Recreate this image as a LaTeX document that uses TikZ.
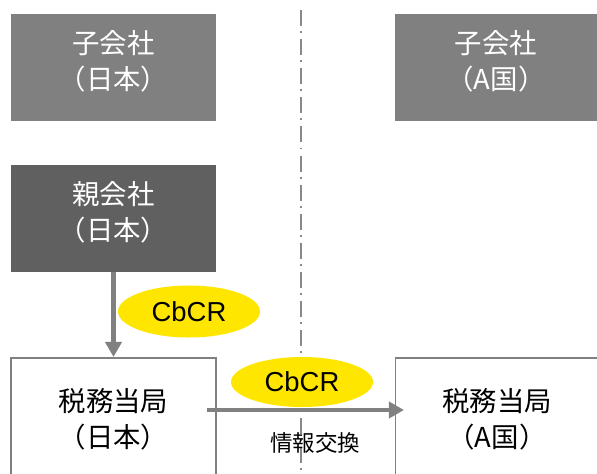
\documentclass[tikz,border=0pt]{standalone}
\usepackage{fontspec}
\setmainfont{Liberation Sans}
\newfontfamily\jp{Noto Sans CJK JP}
\usetikzlibrary{arrows.meta,shapes.geometric}
\definecolor{boxgray}{HTML}{808080}
\definecolor{pargray}{HTML}{606060}
\definecolor{cbyellow}{HTML}{FFE600}
\definecolor{linegray}{HTML}{888888}
\begin{document}
\begin{tikzpicture}[x=0.025cm,y=-0.025cm,
  filledbox/.style={draw=none,minimum width=5.125cm,minimum height=2.675cm,inner sep=0pt},
  taxbox/.style={draw=boxgray,line width=1.1pt,fill=white,minimum width=5.125cm,minimum height=3.4cm,inner sep=0pt},
  jptext/.style={align=center,font=\jp\fontsize{19.5}{25.6}\selectfont,inner sep=0pt},
  cbcr/.style={ellipse,fill=cbyellow,draw=none,minimum width=3.55cm,minimum height=1.3cm,inner sep=0pt,font=\fontsize{19.5}{22}\selectfont},
  flow/.style={draw=boxgray,line width=2.85pt,-{Triangle[width=11.4pt,length=10.7pt]}}]
\useasboundingbox (0,0) rectangle (597,473);
% dash-dot border line
\coordinate (dtop) at (301,10);
\coordinate (dbot) at (301,480);
\draw[linegray,line width=1.42pt,dash pattern=on 11.4pt off 3.6pt on 1.4pt off 4.3pt] (dtop) -- (dbot);
% boxes
\node[filledbox,fill=boxgray] (subJ) at (113.5,67.5) {};
\node[filledbox,fill=boxgray,minimum width=5.1cm] (subA) at (497,67.5) {};
\node[filledbox,fill=pargray] (par) at (113.5,218.5) {};
\node[taxbox,anchor=north] (taxJ) at (113.5,357) {};
\node[taxbox,anchor=north] (taxA) at (498,357) {};
% texts
\node[jptext,text=white] (tSubJ) at (113.5,61) {子会社\\（日本）};
\node[jptext,text=white] (tSubA) at (496,61) {子会社\\（A国）};
\node[jptext,text=white] (tPar) at (113.5,212) {親会社\\（日本）};
\node[jptext] (tTaxJ) at (113.5,419) {税務当局\\（日本）};
\node[jptext] (tTaxA) at (497,419) {税務当局\\（A国）};
\node[font=\jp\fontsize{16}{18}\selectfont,inner sep=0pt] (xchg) at (315,443) {情報交換};
% arrows
\draw[flow] (par.south) -- (taxJ.north);
\coordinate (hs) at (207,410);
\coordinate (he) at (404,410);
\draw[flow] (hs) -- (he);
% CbCR labels
\node[cbcr] (c1) at (189,311.5) {CbCR};
\node[cbcr,minimum height=1.25cm] (c2) at (302,382) {CbCR};
\end{tikzpicture}
\end{document}
